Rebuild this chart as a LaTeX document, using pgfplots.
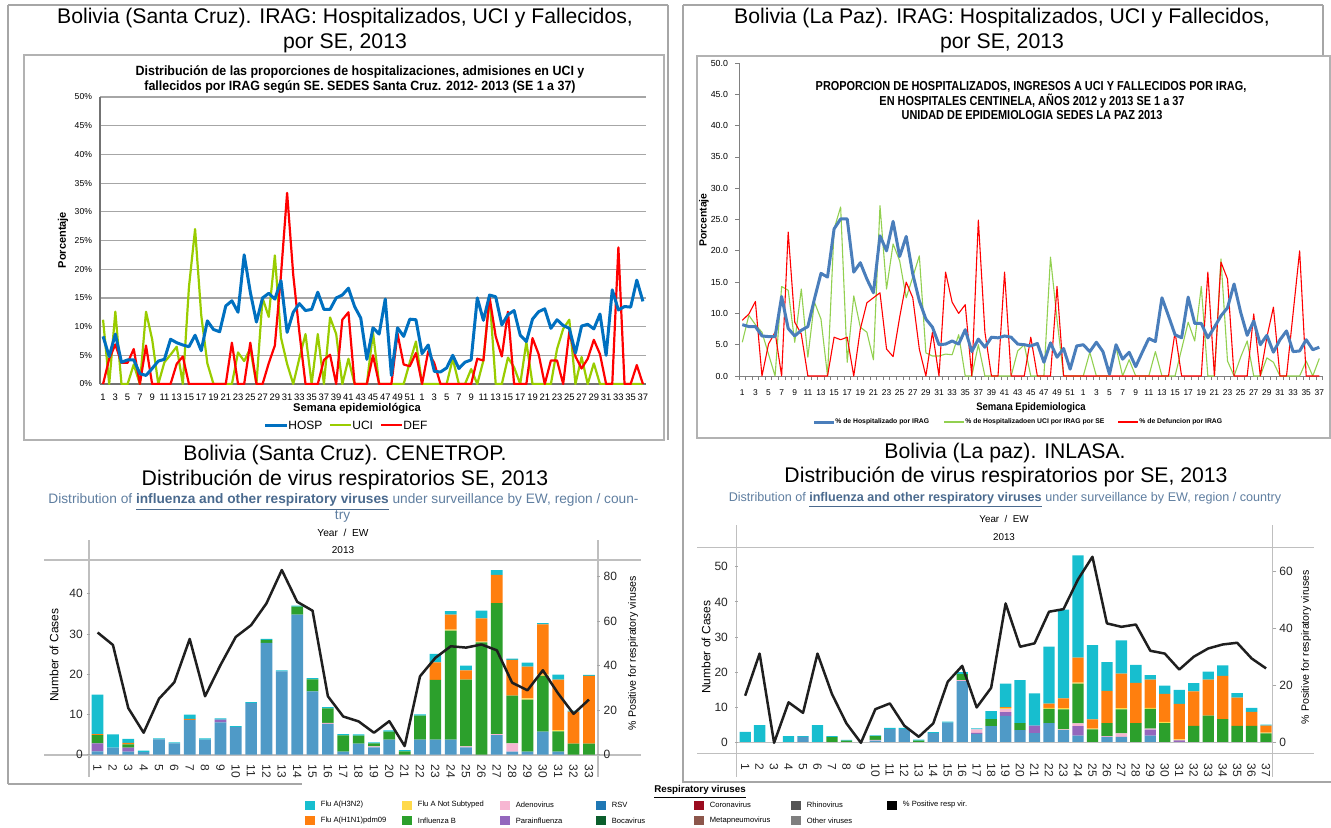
\documentclass[border=0pt]{standalone}
\usepackage{fontspec}
\setmainfont{Liberation Sans}
\usepackage{graphicx}
\usepackage{pgfplots}
\usepackage{pgfplotstable}
\pgfplotsset{compat=1.18}
\pgfplotsset{/pgf/number format/assume math mode=true}
\newcommand{\F}[1]{\fontsize{#1}{#1}\selectfont}

\definecolor{hospTL}{HTML}{0070C0}
\definecolor{uciTL}{HTML}{99CC00}
\definecolor{defTL}{HTML}{FF0000}
\definecolor{hospTR}{HTML}{4A7EBB}
\definecolor{uciTR}{HTML}{92D050}
\definecolor{defTR}{HTML}{FF0000}
\definecolor{cH3}{HTML}{17BECF}
\definecolor{cH1}{HTML}{FF7F0E}
\definecolor{cNS}{HTML}{FFD94A}
\definecolor{cB}{HTML}{2CA02C}
\definecolor{cAd}{HTML}{F7B6D2}
\definecolor{cPara}{HTML}{9467BD}
\definecolor{cRSV}{HTML}{4F9AC7}
\definecolor{cRSVl}{HTML}{1F77B4}
\definecolor{cBoca}{HTML}{0B5E2C}
\definecolor{cCorona}{HTML}{9B0B1F}
\definecolor{cMeta}{HTML}{8C564B}
\definecolor{cRhino}{HTML}{555555}
\definecolor{cOther}{HTML}{7F7F7F}
\definecolor{subc}{HTML}{5F7EA0}
\definecolor{subd}{HTML}{4A6A8E}

\pgfplotstableread{
i hosp uci def
1 8.3 11.2 0
2 4.8 0 4.4
3 8.7 12.6 6.9
4 3.8 0 3.7
5 4.2 0 3.7
6 4.2 3.4 6.1
7 1.8 0 0
8 1.5 12.6 6.7
9 2.7 7.8 0
10 4.0 0 0
11 4.3 3.8 0
12 7.8 5.1 0
13 7.2 6.5 3.5
14 6.8 0 4.8
15 6.5 16.9 0
16 8.5 27.0 0
17 5.8 12.0 0
18 11.0 3.6 0
19 9.5 0 0
20 9.1 0 0
21 13.6 0 0
22 14.5 0 7.2
23 12.5 5.5 0
24 22.5 4.0 0
25 16.0 6.2 7.2
26 10.8 0 0
27 15.0 15.0 0
28 15.8 11.7 3.6
29 14.8 22.4 6.7
30 18.0 8.1 19.0
31 9.0 3.5 33.3
32 12.5 0 19.0
33 14.0 4.5 9.0
34 12.8 8.7 0
35 13.0 0 0
36 16.0 8.7 0
37 13.0 0 4.2
38 13.0 11.6 5.1
39 15.0 8.7 0
40 15.5 0 11.2
41 16.7 4.4 12.5
42 13.5 0 0
43 11.5 0 0
44 4.3 0 0
45 9.8 9.0 5.0
46 8.7 0 0
47 14.8 0 0
48 1.5 0 0
49 9.8 0 8.8
50 8.3 0 3.4
51 11.3 3.8 3.1
52 11.2 7.4 5.4
53 5.3 0 0
54 6.8 0 5.7
55 2.2 0 3.6
56 2.1 0 0
57 2.8 0 0
58 5.0 4.4 0
59 2.7 0 0
60 3.8 0 0
61 4.2 2.6 0
62 15.0 0 4.4
63 11.1 4.1 4.1
64 15.5 15.4 15.1
65 15.2 0 8.3
66 10.3 0 4.8
67 12.1 4.6 12.6
68 12.8 2.9 0
69 8.5 0 0
70 7.4 7.3 0
71 11.3 0 8.0
72 12.6 0 5.2
73 13.1 0 0
74 9.7 0 4.1
75 11.2 6.1 4.1
76 10.2 9.6 0
77 9.7 11.2 9.1
78 5.4 0 4.8
79 10.1 4.7 2.7
80 10.4 0 4.4
81 9.6 3.6 7.7
82 12.2 0 5.2
83 5.0 0 0
84 16.4 0 0
85 12.9 0 23.8
86 13.5 0 0
87 13.4 0 0
88 18.1 0 3.3
89 14.4 0 0
}\tldata

\pgfplotstableread{
i hosp uci def
1 8.2 5.4 8.9
2 7.9 9.7 9.9
3 7.9 8.2 11.9
4 6.4 7.0 0
5 6.3 3.5 5.1
6 6.3 0 7.0
7 12.7 14.3 0
8 7.6 13.7 23.0
9 6.4 5.4 8.6
10 7.3 13.9 6.7
11 7.9 3.0 0
12 12.3 11.8 0
13 16.4 9.1 0
14 15.8 0 0
15 23.5 23.5 6.2
16 25.1 27.0 5.8
17 25.1 2.2 6.2
18 16.6 12.8 0
19 18.1 7.8 7.5
20 15.5 7.0 11.7
21 13.3 2.6 12.5
22 22.4 27.2 13.3
23 20.0 13.9 4.3
24 24.7 21.1 3.1
25 19.1 18.4 9.4
26 22.3 12.5 15.0
27 16.3 15.8 12.5
28 12.0 19.2 4.3
29 9.1 3.7 0
30 7.8 3.2 7.0
31 5.0 3.2 0
32 5.1 3.5 16.6
33 5.6 3.4 11.8
34 5.1 6.6 10.0
35 7.4 0 11.4
36 3.9 0 0
37 5.9 5.0 24.9
38 4.6 0 7.0
39 6.2 0 0
40 6.1 0 0
41 6.4 0 16.6
42 6.2 0 0
43 5.1 4.0 0
44 5.0 5.0 0
45 4.8 0 6.2
46 5.2 0 0
47 2.2 0 0
48 5.3 19.0 0
49 3.0 9.0 14.3
50 4.4 0 0
51 1.1 0 0
52 4.8 0 0
53 5.0 0 0
54 3.9 3.8 0
55 5.4 0 0
56 3.9 0 0
57 0.3 0 0
58 5.0 4.6 0
59 2.7 0 0
60 3.8 2.6 0
61 1.5 0 0
62 3.8 0 0
63 6.0 0 0
64 5.5 3.9 0
65 12.5 0 0
66 9.6 0 0
67 6.6 0 7.0
68 6.1 4.3 0
69 12.6 8.6 0
70 8.4 5.6 0
71 8.4 14.3 0
72 6.1 0 16.6
73 7.8 0 0
74 9.6 18.7 18.2
75 10.9 2.4 15.5
76 14.7 0 0
77 10.2 3.0 0
78 6.5 5.6 0
79 8.8 0 9.9
80 5.0 0 0
81 6.5 2.9 6.2
82 3.8 2.2 11.0
83 5.8 0 0
84 7.2 0 0
85 3.9 0 10.0
86 4.0 0 20.0
87 5.8 2.4 0
88 4.2 0 0
89 4.6 2.8 0
}\trdata

\pgfplotstableread{
i rsv para ad flub ns h1 h3 pos
1 0.8 2.0 0 2.0 0 0.3 9.8 54.9
2 1.7 0 0 0 0 0 3.3 49.3
3 0.7 1.0 0 0.8 0 0.4 1.0 20.9
4 0.6 0 0 0 0 0 0.4 9.8
5 3.75 0 0 0 0 0 0.25 25.1
6 2.8 0 0 0 0 0 0.2 32.5
7 8.6 0 0 0 0 0.3 1.0 52.0
8 3.7 0 0 0 0 0 0.3 26.2
9 8.0 0.66 0 0 0 0 0.33 40.2
10 6.8 0 0 0 0 0 0.25 52.9
11 12.8 0 0 0 0 0 0.25 58.2
12 27.8 0 0 0.75 0 0 0.25 68.0
13 20.7 0 0 0 0 0 0.25 83.0
14 34.8 0 0 2.0 0 0 0.25 68.7
15 15.7 0 0 3.0 0 0 0.3 64.7
16 7.6 0 0.3 3.6 0 0 0.3 26.2
17 0.75 0 0 4.0 0 0 0.3 17.1
18 2.7 0 0 2.0 0 0 0.3 14.9
19 1.75 0 0.25 0.75 0 0 0.25 9.8
20 3.7 0 0 2.0 0 0 0.3 15.0
21 0 0 0 0.8 0 0 0.3 3.8
22 3.7 0 0 6.0 0 0 0.3 35.2
23 3.7 0 0 14.9 0 4.3 2.15 43.5
24 3.7 0 0 27.1 0.3 3.7 0.9 48.7
25 1.75 0 0.3 16.6 0 2.3 1.2 48.1
26 0 0 0 27.9 0.2 5.8 1.9 49.5
27 4.8 0 0.3 32.6 0 7.0 1.2 46.9
28 0.75 0 2.0 11.9 0 8.9 0.3 32.3
29 0.75 0 0 12.9 0.3 7.9 1.0 28.9
30 5.7 0 0 13.9 0.3 12.5 0.3 37.9
31 0.75 0 0 5.0 0.3 12.6 1.25 27.4
32 0 0 0 2.7 0 8.0 0.25 18.3
33 0 0 0 2.7 0 16.9 0.25 24.7
}\bldata

\pgfplotstableread{
i rsv para ad flub ns h1 h3 pos
1 0 0 0 0 0 0.2 2.9 16.5
2 0 0 0 0 0 0.2 4.8 31.3
3 0 0 0 0 0 0 0.2 0
4 0 0 0 0 0 0 1.9 14.2
5 1.7 0 0 0 0 0 0.2 10.5
6 0 0 0 0 0 0.2 4.8 31.3
7 0 0 0 1.6 0 0 0.25 17.1
8 0 0 0 0.6 0 0 0.2 6.8
9 0 0 0 0 0 0 0.15 0
10 0.6 0 0.2 1.1 0 0 0.2 11.8
11 3.9 0 0 0 0 0 0.3 13.8
12 3.9 0 0 0 0 0 0.3 6.0
13 0 0 0 0.6 0 0 0.3 2.1
14 2.75 0 0 0 0 0 0.3 6.8
15 5.7 0 0 0 0 0 0.3 21.4
16 17.5 0 0.3 1.7 0 0 0.55 27.0
17 2.5 0.3 1.0 0 0 0 0.3 12.4
18 4.7 0 0 2.0 0 0 2.3 19.3
19 7.6 1.1 0.9 0 0.3 0.2 6.7 48.9
20 3.6 0 0 2.0 0 0 12.2 33.7
21 2.75 2.1 0 0 0 0 9.2 34.9
22 5.6 0 0 4.0 0.3 1.2 16.2 46.0
23 3.6 0 0.2 5.7 0.3 2.8 25.2 46.9
24 2.0 2.75 0.75 11.3 0.3 7.1 29.0 57.3
25 0 0 0 3.8 0.2 2.65 21.1 65.3
26 1.7 0 0.2 3.7 0 9.1 8.2 41.9
27 1.7 0 1.0 6.8 0.3 9.8 9.5 40.7
28 0 0 0 5.6 0 11.4 5.1 41.5
29 2.0 1.7 0.3 5.6 0.3 8.0 1.3 32.3
30 0 0 0 5.6 0.3 8.0 2.3 31.3
31 0 0.65 0 0 0.3 10.1 4.0 25.7
32 0 0 0 4.8 0 9.8 2.3 30.2
33 0 0 0 7.7 0 10.2 2.3 33.1
34 0 0 0 6.7 0 12.3 3.0 34.5
35 0 0 0 4.8 0 8.0 1.3 35.1
36 0 0 0 4.8 0 4.0 1.1 29.6
37 0 0 0 2.65 0.2 2.0 0.3 26.1
}\brdata

\begin{document}
\begin{tikzpicture}
\useasboundingbox (0pt,0pt) rectangle (665.5pt,-413.5pt);

\begin{scope}[x=0.5pt,y=-0.5pt,inner sep=0pt]
% frames
\draw[black!35, line width=0.75pt] (8,5) -- (668,5);
\draw[black!35, line width=0.75pt] (8,5) -- (8,784);
\draw[black!35, line width=0.75pt] (8,784) -- (302,784);
\draw[black!35, line width=0.75pt] (668,5) -- (668,440);
\draw[black!30, line width=0.6pt] (24,55) rectangle (664,440);
\draw[black!35, line width=0.75pt] (683,5) -- (1323,5);
\draw[black!35, line width=0.75pt] (1323,5) -- (1323,56);
\draw[black!35, line width=0.75pt] (683,5) -- (683,783);
\draw[black!35, line width=0.75pt] (683,782) -- (1331,782);
\draw[black!30, line width=0.6pt] (697,56) rectangle (1330,438);

% top titles
\node[font=\F{10.6}] at (345,18) {Bolivia (Santa Cruz). IRAG: Hospitalizados, UCI y Fallecidos,};
\node[font=\F{10.6}] at (345,43) {por SE, 2013};
\node[font=\F{10.6}] at (1002,18) {Bolivia (La Paz). IRAG: Hospitalizados, UCI y Fallecidos,};
\node[font=\F{10.6}] at (1002,43) {por SE, 2013};

% TL inner title
\node at (360,72) {\scalebox{0.93}[1]{\F{6.7}\bfseries Distribución de las proporciones de hospitalizaciones, admisiones en UCI y}};
\node at (360,87) {\scalebox{0.93}[1]{\F{6.7}\bfseries fallecidos por IRAG según SE. SEDES Santa Cruz. 2012- 2013 (SE 1 a 37)}};
\node[rotate=90, font=\F{5.5}\bfseries] at (63,240) {Porcentaje};
\node[font=\F{5.6}\bfseries] at (357,409) {Semana epidemiológica};
\draw[hospTL, line width=1.5pt] (265,425) -- (287,425);
\node[anchor=west, font=\F{6}] at (288,425) {HOSP};
\draw[uciTL, line width=1.1pt] (330,425) -- (351,425);
\node[anchor=west, font=\F{6}] at (352,425) {UCI};
\draw[defTL, line width=1.1pt] (381,425) -- (402,425);
\node[anchor=west, font=\F{6}] at (403,425) {DEF};

% TR inner title
\node at (1031,87) {\scalebox{0.84}[1]{\F{6.5}\bfseries PROPORCION DE HOSPITALIZADOS, INGRESOS A UCI Y FALLECIDOS POR IRAG,}};
\node at (1032,101.5) {\scalebox{0.84}[1]{\F{6.5}\bfseries EN HOSPITALES CENTINELA, AÑOS 2012 y 2013 SE 1 a 37}};
\node at (1032,115) {\scalebox{0.84}[1]{\F{6.5}\bfseries UNIDAD DE EPIDEMIOLOGIA SEDES LA PAZ 2013}};
\node[rotate=90, font=\F{5.2}\bfseries] at (704,220) {Porcentaje};
\node at (1031,408) {\scalebox{0.88}[1]{\F{5.4}\bfseries Semana Epidemiologica}};
\draw[hospTR, line width=1.5pt] (814,422) -- (834,422);
\node[anchor=west, font=\F{3.4}\bfseries] at (835,422) {\% de Hospitalizado por IRAG};
\draw[uciTR, line width=0.6pt] (944,422) -- (964,422);
\node[anchor=west, font=\F{3.4}\bfseries] at (965,422) {\% de Hospitalizadoen UCI por IRAG por SE};
\draw[defTR, line width=0.6pt] (1118,422) -- (1138,422);
\node[anchor=west, font=\F{3.4}\bfseries] at (1139,422) {\% de Defuncion por IRAG};

% BL texts
\node[font=\F{10.6}] at (345,455) {Bolivia (Santa Cruz). CENETROP.};
\node[font=\F{10.6}] at (345,480) {Distribución de virus respiratorios SE, 2013};
\node[font=\F{6.85}, text=subc] at (343.5,502) {Distribution of {\color{subd}\bfseries\underline{influenza and other respiratory viruses}} under surveillance by EW, region / coun-};
\node[font=\F{6.85}, text=subc] at (342.6,516) {try};
\node[font=\F{5.1}] at (343,533) {Year \ / \ EW};
\node[font=\F{5}] at (343,550) {2013};
\draw[black!25, line width=0.6pt] (89,540) -- (89,777);
\draw[black!25, line width=0.6pt] (598,540) -- (598,777);
\draw[black!25, line width=0.6pt] (44,560) -- (641,560);
\draw[black!25, line width=0.6pt] (44,755) -- (641,755);
\node[rotate=90, font=\F{6}] at (54,655) {Number of Cases};
\node[rotate=90, font=\F{5.3}] at (633,653) {\% Positive for respiratory viruses};

% BR texts
\node[font=\F{10.6}] at (1005,453) {Bolivia (La paz). INLASA.};
\node[font=\F{10.6}] at (1006,477) {Distribución de virus respiratorios por SE, 2013};
\node[font=\F{6.3}, text=subc] at (1005,500) {Distribution of {\color{subd}\bfseries\underline{influenza and other respiratory viruses}} under surveillance by EW, region / country};
\node[font=\F{4.9}] at (1004,519) {Year \ / \ EW};
\node[font=\F{4.9}] at (1004,537) {2013};
\draw[black!25, line width=0.6pt] (736.7,525) -- (736.7,777);
\draw[black!25, line width=0.6pt] (1272.4,525) -- (1272.4,777);
\draw[black!25, line width=0.6pt] (697,547.3) -- (1313.6,547.3);
\draw[black!25, line width=0.6pt] (697,753.3) -- (1313.6,753.3);
\node[rotate=90, font=\F{6}] at (706,647) {Number of Cases};
\node[rotate=90, font=\F{5.3}] at (1306,647) {\% Positive for respiratory viruses};

% bottom legend
\node[font=\F{4.9}\bfseries] at (700,792) {\underline{Respiratory viruses}};
\foreach \xx/\col/\lab in {305/cH3/{Flu A(H3N2)}, 402/cNS/{Flu A Not Subtyped}, 500/cAd/{Adenovirus}, 596/cRSVl/{RSV}, 694/cCorona/{Coronavirus}, 791/cRhino/{Rhinovirus}}{
  \fill[\col] (\xx,800.5) rectangle ++(10,9);
  \node[anchor=west, font=\F{3.8}] at (\xx+15.5,805) {\lab};
}
\foreach \xx/\col/\lab in {305/cH1/{Flu A(H1N1)pdm09}, 402/cB/{Influenza B}, 500/cPara/{Parainfluenza}, 596/cBoca/{Bocavirus}, 694/cMeta/{Metapneumovirus}, 791/cOther/{Other viruses}}{
  \fill[\col] (\xx,815.8) rectangle ++(10,9);
  \node[anchor=west, font=\F{3.8}] at (\xx+15.5,820.3) {\lab};
}
\fill[black] (887,800.5) rectangle ++(10,9);
\node[anchor=west, font=\F{3.8}] at (902.5,805) {\% Positive resp vir.};
\end{scope}

% ===== TL axis =====
\begin{axis}[
  at={(50pt,-192pt)}, anchor=south west, scale only axis,
  width=273pt, height=143.5pt,
  xmin=0.5, xmax=89.5, ymin=0, ymax=50,
  axis x line=bottom, axis y line=left,
  axis line style={-, draw=black!55, line width=0.6pt},
  ytick={0,5,...,50}, yticklabel={\pgfmathprintnumber{\tick}\%},
  ymajorgrids, grid style={black!35, line width=0.6pt},
  xtick={1,3,...,89},
  xticklabels={1,3,5,7,9,11,13,15,17,19,21,23,25,27,29,31,33,35,37,39,41,43,45,47,49,51,1,3,5,7,9,11,13,15,17,19,21,23,25,27,29,31,33,35,37},
  major tick length=0pt,
  yticklabel style={font=\F{4.3}, xshift=-0.5pt},
  xticklabel style={font=\F{4.7}, yshift=-1.5pt},
]
\addplot[uciTL, line width=1.1pt, line join=round, mark=none] table[x=i,y=uci]{\tldata};
\addplot[defTL, line width=1.1pt, line join=round, mark=none] table[x=i,y=def]{\tldata};
\addplot[hospTL, line width=1.5pt, line join=round, mark=none] table[x=i,y=hosp]{\tldata};
\end{axis}

% ===== TR axis =====
\begin{axis}[
  at={(369.5pt,-188pt)}, anchor=south west, scale only axis,
  width=291.8pt, height=156.5pt,
  xmin=0.5, xmax=89.5, ymin=0, ymax=50,
  axis x line=bottom, axis y line=left,
  axis line style={-, draw=black!50, line width=0.5pt},
  ytick={0,5,...,50},
  yticklabel style={/pgf/number format/fixed, /pgf/number format/fixed zerofill, /pgf/number format/precision=1, font=\F{4.4}},
  xtick={1,3,...,89},
  xticklabels={1,3,5,7,9,11,13,15,17,19,21,23,25,27,29,31,33,35,37,39,41,43,45,47,49,51,1,3,5,7,9,11,13,15,17,19,21,23,25,27,29,31,33,35,37},
  minor xtick={0.5,1.5,...,89.5},
  tick align=outside, major tick length=2pt, minor tick length=2pt,
  major x tick style={draw=none},
  tick style={black!50, line width=0.4pt},
  xticklabel style={font=\F{4.2}, yshift=-1.5pt},
]
\addplot[uciTR, line width=0.55pt, line join=round, mark=none] table[x=i,y=uci]{\trdata};
\addplot[defTR, line width=0.55pt, line join=round, mark=none] table[x=i,y=def]{\trdata};
\addplot[hospTR, line width=1.5pt, line join=round, mark=none] table[x=i,y=hosp]{\trdata};
\end{axis}

% ===== BL bars =====
\begin{axis}[
  at={(44.95pt,-377.25pt)}, anchor=south west, scale only axis,
  width=253.35pt, height=97.25pt,
  xmin=0.5, xmax=33.5, ymin=0, ymax=48.4,
  ybar stacked, bar width=5.85pt,
  axis x line*=bottom, axis y line*=left, axis line style={draw=none},
  xtick={1,...,33}, ytick={0,10,...,40},
  tick align=outside, major tick length=1.5pt,
  major x tick style={draw=none}, major y tick style={black!35, line width=0.4pt},
  xticklabel style={rotate=-90, anchor=west, font=\F{6}, text=black!85},
  yticklabel style={font=\F{6}, text=black!85, xshift=1.5pt},
]
\addplot[fill=cRSV, draw=none] table[x=i,y=rsv]{\bldata};
\addplot[fill=cPara, draw=none] table[x=i,y=para]{\bldata};
\addplot[fill=cAd, draw=none] table[x=i,y=ad]{\bldata};
\addplot[fill=cB, draw=none] table[x=i,y=flub]{\bldata};
\addplot[fill=cNS, draw=none] table[x=i,y=ns]{\bldata};
\addplot[fill=cH1, draw=none] table[x=i,y=h1]{\bldata};
\addplot[fill=cH3, draw=none] table[x=i,y=h3]{\bldata};
\end{axis}
\begin{axis}[
  at={(44.95pt,-377.25pt)}, anchor=south west, scale only axis,
  width=253.35pt, height=97.25pt,
  xmin=0.5, xmax=33.5, ymin=0, ymax=87.5,
  axis x line=none, axis y line*=right, axis line style={draw=none},
  ytick={0,20,...,80},
  tick align=outside, major tick length=1.5pt, major y tick style={black!35, line width=0.4pt},
  yticklabel style={font=\F{6}, text=black!85, xshift=-1.5pt},
]
\addplot[black!88, line width=1.25pt, line join=round, mark=none] table[x=i,y=pos]{\bldata};
\end{axis}

% ===== BR bars =====
\begin{axis}[
  at={(368.95pt,-376.65pt)}, anchor=south west, scale only axis,
  width=267.7pt, height=103pt,
  xmin=0.5, xmax=37.5, ymin=-3.0, ymax=55.5,
  ybar stacked, bar width=5.65pt,
  axis x line*=bottom, axis y line*=left, axis line style={draw=none},
  xtick={1,...,37}, ytick={0,10,...,50},
  tick align=outside, major tick length=1.5pt,
  major x tick style={draw=none}, major y tick style={black!35, line width=0.4pt},
  xticklabel style={rotate=-90, anchor=west, font=\F{6}, text=black!85},
  yticklabel style={font=\F{6}, text=black!85},
]
\draw[black!25, line width=0.6pt] (axis cs:0.5,0) -- (axis cs:37.5,0);
\addplot[fill=cRSV, draw=none] table[x=i,y=rsv]{\brdata};
\addplot[fill=cPara, draw=none] table[x=i,y=para]{\brdata};
\addplot[fill=cAd, draw=none] table[x=i,y=ad]{\brdata};
\addplot[fill=cB, draw=none] table[x=i,y=flub]{\brdata};
\addplot[fill=cNS, draw=none] table[x=i,y=ns]{\brdata};
\addplot[fill=cH1, draw=none] table[x=i,y=h1]{\brdata};
\addplot[fill=cH3, draw=none] table[x=i,y=h3]{\brdata};
\end{axis}
\begin{axis}[
  at={(368.95pt,-376.65pt)}, anchor=south west, scale only axis,
  width=267.7pt, height=103pt,
  xmin=0.5, xmax=37.5, ymin=-3.7, ymax=68.6,
  axis x line=none, axis y line*=right, axis line style={draw=none},
  ytick={0,20,40,60},
  tick align=outside, major tick length=1.5pt, major y tick style={black!35, line width=0.4pt},
  yticklabel style={font=\F{6}, text=black!85, xshift=-2pt},
]
\addplot[black!88, line width=1.25pt, line join=round, mark=none] table[x=i,y=pos]{\brdata};
\end{axis}
\end{tikzpicture}
\end{document}
